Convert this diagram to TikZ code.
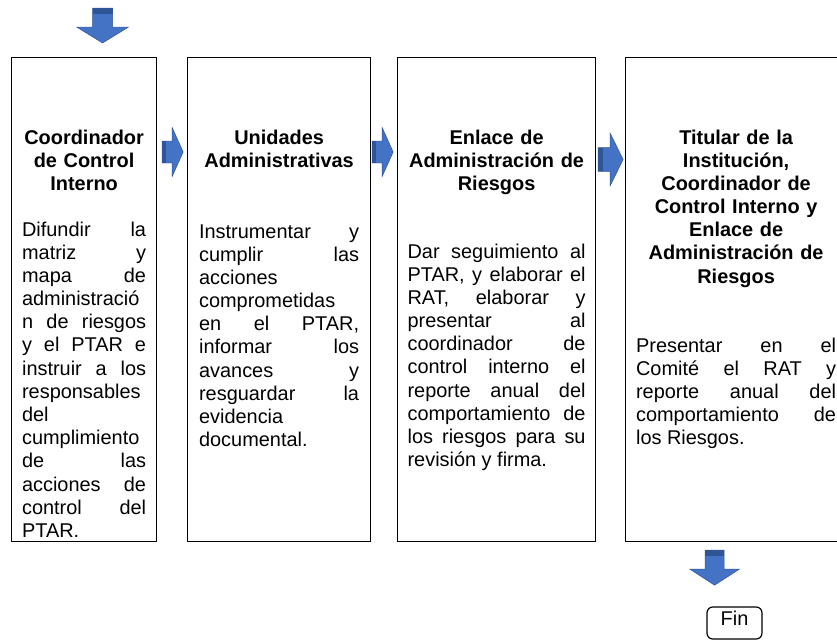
\documentclass[tikz,border=0pt]{standalone}
\usepackage{fontspec}
\setmainfont{Liberation Sans}
\usetikzlibrary{calc}
\definecolor{arrowblue}{HTML}{4472C4}
\definecolor{arrowdark}{HTML}{2F5597}
\newcommand{\colbody}[2]{\parbox[t]{#1}{\tolerance=10000 \hyphenpenalty=10000 \parindent=0pt #2}}
\tikzset{
    boxnode/.style = {rectangle, draw=black, line width=1pt, anchor=north west, inner sep=0pt},
    titlenode/.style = {align=center, anchor=base, inner sep=0pt, font=\bfseries\fontsize{17}{19.8}\selectfont},
    bodynode/.style = {anchor=base, inner sep=0pt, font=\fontsize{17}{19.8}\selectfont},
    finnode/.style = {rectangle, rounded corners=5pt, draw=black, line width=1pt, minimum width=1.65cm, minimum height=0.96cm, text depth=8pt, inner sep=0pt, font=\fontsize{17}{19.8}\selectfont},
    rarrow/.pic = {
      \fill[arrowblue] (0,-11) -- (10,-11) -- (10,-24.5) -- (21,0) -- (10,24.5) -- (10,11) -- (0,11) -- cycle;
      \fill[arrowdark] (0,-11) rectangle (4,11);
      \draw[arrowdark, line width=0.4pt] (0,-11) -- (10,-11) -- (10,-24.5) -- (21,0) -- (10,24.5) -- (10,11) -- (0,11) -- cycle;
    },
    darrow/.pic = {
      \fill[arrowblue] (-10,0) -- (10,0) -- (10,19) -- (26,19) -- (0,35) -- (-26,19) -- (-10,19) -- cycle;
      \fill[arrowdark] (-10,0) rectangle (10,6);
      \draw[arrowdark, line width=0.4pt] (-10,0) -- (10,0) -- (10,19) -- (26,19) -- (0,35) -- (-26,19) -- (-10,19) -- cycle;
    }
}

\begin{document}
\begin{tikzpicture}[x=0.03cm, y=-0.03cm]
  \useasboundingbox (0,0) rectangle (837,642);
  % the four columns
  \node[boxnode, minimum width=4.35cm, minimum height=14.52cm] (b1) at (11,57) {};
  \node[boxnode, minimum width=5.49cm, minimum height=14.52cm] (b2) at (187,57) {};
  \node[boxnode, minimum width=5.94cm, minimum height=14.52cm] (b3) at (397,57) {};
  \node[boxnode, minimum width=6.63cm, minimum height=14.52cm] (b4) at (625,57) {};

  \node[titlenode, text width=3.72cm] (t1) at ($(b1.north)+(0,87)$) {Coordinador\\de Control\\Interno};
  \node[bodynode] (d1) at ($(b1.north)+(0,179)$) {\colbody{3.72cm}{Difundir la\linebreak matriz y\linebreak mapa de\linebreak administració\linebreak n de riesgos\linebreak y el PTAR e\linebreak instruir a los\linebreak responsables\linebreak del\linebreak cumplimiento\linebreak de las\linebreak acciones de\linebreak control del\linebreak PTAR.}};

  \node[titlenode, text width=4.8cm] (t2) at ($(b2.north)+(0,87)$) {Unidades\\Administrativas};
  \node[bodynode] (d2) at ($(b2.north)+(0,181)$) {\colbody{4.8cm}{Instrumentar y\linebreak cumplir las\linebreak acciones\linebreak comprometidas\linebreak en el PTAR,\linebreak informar los\linebreak avances y\linebreak resguardar la\linebreak evidencia\linebreak documental.}};

  \node[titlenode, text width=5.34cm] (t3) at ($(b3.north)+(0,87)$) {Enlace de\\Administración de\\Riesgos};
  \node[bodynode] (d3) at ($(b3.north)+(0,201)$) {\colbody{5.34cm}{Dar seguimiento al\linebreak PTAR, y elaborar el\linebreak RAT, elaborar y\linebreak presentar al\linebreak coordinador de\linebreak control interno el\linebreak reporte anual del\linebreak comportamiento de\linebreak los riesgos para su\linebreak revisión y firma.}};

  \node[titlenode, text width=6.0cm] (t4) at ($(b4.north)+(0,87)$) {Titular de la\\Institución,\\Coordinador de\\Control Interno y\\Enlace de\\Administración de\\Riesgos};
  \node[bodynode] (d4) at ($(b4.north)+(0,295)$) {\colbody{6.0cm}{Presentar en el\linebreak Comité el RAT y\linebreak reporte anual del\linebreak comportamiento de\linebreak los Riesgos.}};

  \node[finnode] (fin) at (734.5,623) {Fin};

  % block arrows
  \pic at ($(b1.north)+(18.5,-49)$) {darrow};
  \pic at ($(b1.north east)+(5,95)$) {rarrow};
  \pic at ($(b2.north east)+(1,95)$) {rarrow};
  \pic[xscale=1.19, yscale=1.08] at ($(b3.north east)+(2,102.5)$) {rarrow};
  \pic[xscale=0.95] at ($(b4.south)+(-21.5,8)$) {darrow};
\end{tikzpicture}
\end{document}
